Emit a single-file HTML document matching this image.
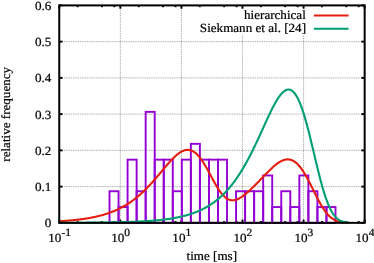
<!DOCTYPE html>
<html><head><meta charset="utf-8"><title>plot</title>
<style>
html,body{margin:0;padding:0;background:#fff;}
body{width:374px;height:263px;overflow:hidden;}
svg{display:block;will-change:transform;}
text{font-family:"Liberation Serif",serif;fill:#000;}
.tx{filter:grayscale(1);text-rendering:geometricPrecision;stroke:#000;stroke-width:0.22px;}
</style></head><body>
<svg width="374" height="263" viewBox="0 0 374 263">
<rect x="0" y="0" width="374" height="263" fill="#fff"/>
<line x1="120.33" y1="5.40" x2="120.33" y2="222.85" stroke="#6c6c6c" stroke-width="0.55" stroke-dasharray="1.4,0.9" fill="none"/>
<line x1="181.41" y1="5.40" x2="181.41" y2="222.85" stroke="#6c6c6c" stroke-width="0.55" stroke-dasharray="1.4,0.9" fill="none"/>
<line x1="242.49" y1="35.60" x2="242.49" y2="222.85" stroke="#6c6c6c" stroke-width="0.55" stroke-dasharray="1.4,0.9" fill="none"/>
<line x1="303.57" y1="35.60" x2="303.57" y2="222.85" stroke="#6c6c6c" stroke-width="0.55" stroke-dasharray="1.4,0.9" fill="none"/>
<line x1="59.25" y1="186.61" x2="364.65" y2="186.61" stroke="#6c6c6c" stroke-width="0.55" stroke-dasharray="1.4,0.9" fill="none"/>
<line x1="59.25" y1="150.37" x2="364.65" y2="150.37" stroke="#6c6c6c" stroke-width="0.55" stroke-dasharray="1.4,0.9" fill="none"/>
<line x1="59.25" y1="114.12" x2="364.65" y2="114.12" stroke="#6c6c6c" stroke-width="0.55" stroke-dasharray="1.4,0.9" fill="none"/>
<line x1="59.25" y1="77.88" x2="364.65" y2="77.88" stroke="#6c6c6c" stroke-width="0.55" stroke-dasharray="1.4,0.9" fill="none"/>
<line x1="59.25" y1="41.64" x2="364.65" y2="41.64" stroke="#6c6c6c" stroke-width="0.55" stroke-dasharray="1.4,0.9" fill="none"/>
<g stroke="#000" stroke-width="1.9" fill="none">
<line x1="59.25" y1="222.85" x2="59.25" y2="219.55"/>
<line x1="59.25" y1="5.40" x2="59.25" y2="8.70"/>
<line x1="77.64" y1="222.85" x2="77.64" y2="221.05"/>
<line x1="77.64" y1="5.40" x2="77.64" y2="7.20"/>
<line x1="101.94" y1="222.85" x2="101.94" y2="221.05"/>
<line x1="101.94" y1="5.40" x2="101.94" y2="7.20"/>
<line x1="114.41" y1="222.85" x2="114.41" y2="221.05"/>
<line x1="114.41" y1="5.40" x2="114.41" y2="7.20"/>
<line x1="120.33" y1="222.85" x2="120.33" y2="219.55"/>
<line x1="120.33" y1="5.40" x2="120.33" y2="8.70"/>
<line x1="138.72" y1="222.85" x2="138.72" y2="221.05"/>
<line x1="138.72" y1="5.40" x2="138.72" y2="7.20"/>
<line x1="163.02" y1="222.85" x2="163.02" y2="221.05"/>
<line x1="163.02" y1="5.40" x2="163.02" y2="7.20"/>
<line x1="175.49" y1="222.85" x2="175.49" y2="221.05"/>
<line x1="175.49" y1="5.40" x2="175.49" y2="7.20"/>
<line x1="181.41" y1="222.85" x2="181.41" y2="219.55"/>
<line x1="181.41" y1="5.40" x2="181.41" y2="8.70"/>
<line x1="199.80" y1="222.85" x2="199.80" y2="221.05"/>
<line x1="199.80" y1="5.40" x2="199.80" y2="7.20"/>
<line x1="224.10" y1="222.85" x2="224.10" y2="221.05"/>
<line x1="224.10" y1="5.40" x2="224.10" y2="7.20"/>
<line x1="236.57" y1="222.85" x2="236.57" y2="221.05"/>
<line x1="236.57" y1="5.40" x2="236.57" y2="7.20"/>
<line x1="242.49" y1="222.85" x2="242.49" y2="219.55"/>
<line x1="242.49" y1="5.40" x2="242.49" y2="8.70"/>
<line x1="260.88" y1="222.85" x2="260.88" y2="221.05"/>
<line x1="260.88" y1="5.40" x2="260.88" y2="7.20"/>
<line x1="285.18" y1="222.85" x2="285.18" y2="221.05"/>
<line x1="285.18" y1="5.40" x2="285.18" y2="7.20"/>
<line x1="297.65" y1="222.85" x2="297.65" y2="221.05"/>
<line x1="297.65" y1="5.40" x2="297.65" y2="7.20"/>
<line x1="303.57" y1="222.85" x2="303.57" y2="219.55"/>
<line x1="303.57" y1="5.40" x2="303.57" y2="8.70"/>
<line x1="321.96" y1="222.85" x2="321.96" y2="221.05"/>
<line x1="321.96" y1="5.40" x2="321.96" y2="7.20"/>
<line x1="346.26" y1="222.85" x2="346.26" y2="221.05"/>
<line x1="346.26" y1="5.40" x2="346.26" y2="7.20"/>
<line x1="358.73" y1="222.85" x2="358.73" y2="221.05"/>
<line x1="358.73" y1="5.40" x2="358.73" y2="7.20"/>
<line x1="364.65" y1="222.85" x2="364.65" y2="219.55"/>
<line x1="364.65" y1="5.40" x2="364.65" y2="8.70"/>
<line x1="59.25" y1="222.85" x2="62.55" y2="222.85"/>
<line x1="364.65" y1="222.85" x2="361.35" y2="222.85"/>
<line x1="59.25" y1="186.61" x2="62.55" y2="186.61"/>
<line x1="364.65" y1="186.61" x2="361.35" y2="186.61"/>
<line x1="59.25" y1="150.37" x2="62.55" y2="150.37"/>
<line x1="364.65" y1="150.37" x2="361.35" y2="150.37"/>
<line x1="59.25" y1="114.12" x2="62.55" y2="114.12"/>
<line x1="364.65" y1="114.12" x2="361.35" y2="114.12"/>
<line x1="59.25" y1="77.88" x2="62.55" y2="77.88"/>
<line x1="364.65" y1="77.88" x2="361.35" y2="77.88"/>
<line x1="59.25" y1="41.64" x2="62.55" y2="41.64"/>
<line x1="364.65" y1="41.64" x2="361.35" y2="41.64"/>
<line x1="59.25" y1="5.40" x2="62.55" y2="5.40"/>
<line x1="364.65" y1="5.40" x2="361.35" y2="5.40"/>
</g>
<g fill="none" stroke="#9400d3" stroke-width="1.9" stroke-linejoin="miter">
<rect x="109.50" y="191.25" width="9.04" height="31.60"/>
<rect x="118.54" y="207.05" width="9.04" height="15.80"/>
<rect x="127.58" y="159.65" width="9.04" height="63.20"/>
<rect x="136.62" y="191.25" width="9.04" height="31.60"/>
<rect x="145.66" y="111.85" width="9.04" height="111.00"/>
<rect x="154.70" y="159.65" width="9.04" height="63.20"/>
<rect x="163.74" y="159.65" width="9.04" height="63.20"/>
<rect x="172.78" y="191.25" width="9.04" height="31.60"/>
<rect x="181.82" y="159.65" width="9.04" height="63.20"/>
<rect x="190.86" y="143.85" width="9.04" height="79.00"/>
<rect x="199.90" y="159.65" width="9.04" height="63.20"/>
<rect x="208.94" y="159.65" width="9.04" height="63.20"/>
<rect x="217.98" y="159.65" width="9.04" height="63.20"/>
<rect x="236.06" y="191.25" width="9.04" height="31.60"/>
<rect x="245.10" y="191.25" width="9.04" height="31.60"/>
<rect x="254.14" y="191.25" width="9.04" height="31.60"/>
<rect x="263.18" y="175.45" width="9.04" height="47.40"/>
<rect x="272.22" y="207.05" width="9.04" height="15.80"/>
<rect x="281.26" y="191.25" width="9.04" height="31.60"/>
<rect x="290.30" y="207.05" width="9.04" height="15.80"/>
<rect x="299.34" y="175.45" width="9.04" height="47.40"/>
<rect x="308.38" y="191.25" width="9.04" height="31.60"/>
<rect x="317.42" y="207.05" width="9.04" height="15.80"/>
<rect x="326.46" y="207.05" width="9.04" height="15.80"/>
</g>
<path d="M59.25,221.27 L59.76,221.24 L60.27,221.21 L60.78,221.17 L61.29,221.14 L61.79,221.11 L62.30,221.08 L62.81,221.04 L63.32,221.01 L63.83,220.97 L64.34,220.94 L64.85,220.90 L65.36,220.86 L65.87,220.82 L66.38,220.78 L66.89,220.75 L67.39,220.70 L67.90,220.66 L68.41,220.62 L68.92,220.58 L69.43,220.54 L69.94,220.49 L70.45,220.45 L70.96,220.40 L71.47,220.35 L71.97,220.31 L72.48,220.26 L72.99,220.21 L73.50,220.16 L74.01,220.11 L74.52,220.05 L75.03,220.00 L75.54,219.95 L76.05,219.89 L76.56,219.83 L77.06,219.78 L77.57,219.72 L78.08,219.66 L78.59,219.60 L79.10,219.54 L79.61,219.47 L80.12,219.41 L80.63,219.34 L81.14,219.28 L81.65,219.21 L82.16,219.14 L82.66,219.07 L83.17,219.00 L83.68,218.92 L84.19,218.85 L84.70,218.77 L85.21,218.70 L85.72,218.62 L86.23,218.54 L86.74,218.45 L87.24,218.37 L87.75,218.29 L88.26,218.20 L88.77,218.11 L89.28,218.02 L89.79,217.93 L90.30,217.84 L90.81,217.75 L91.32,217.65 L91.83,217.55 L92.33,217.45 L92.84,217.35 L93.35,217.25 L93.86,217.14 L94.37,217.03 L94.88,216.92 L95.39,216.81 L95.90,216.70 L96.41,216.59 L96.92,216.47 L97.42,216.35 L97.93,216.23 L98.44,216.10 L98.95,215.98 L99.46,215.85 L99.97,215.72 L100.48,215.59 L100.99,215.45 L101.50,215.31 L102.01,215.17 L102.52,215.03 L103.02,214.89 L103.53,214.74 L104.04,214.59 L104.55,214.43 L105.06,214.28 L105.57,214.12 L106.08,213.96 L106.59,213.80 L107.10,213.63 L107.60,213.46 L108.11,213.29 L108.62,213.11 L109.13,212.93 L109.64,212.75 L110.15,212.57 L110.66,212.38 L111.17,212.19 L111.68,211.99 L112.19,211.79 L112.69,211.59 L113.20,211.39 L113.71,211.18 L114.22,210.97 L114.73,210.75 L115.24,210.54 L115.75,210.31 L116.26,210.09 L116.77,209.86 L117.28,209.63 L117.78,209.39 L118.29,209.15 L118.80,208.90 L119.31,208.65 L119.82,208.40 L120.33,208.14 L120.84,207.88 L121.35,207.62 L121.86,207.35 L122.37,207.07 L122.88,206.79 L123.38,206.51 L123.89,206.22 L124.40,205.93 L124.91,205.64 L125.42,205.34 L125.93,205.03 L126.44,204.72 L126.95,204.41 L127.46,204.09 L127.97,203.76 L128.47,203.43 L128.98,203.10 L129.49,202.76 L130.00,202.42 L130.51,202.07 L131.02,201.71 L131.53,201.36 L132.04,200.99 L132.55,200.62 L133.06,200.25 L133.56,199.87 L134.07,199.49 L134.58,199.10 L135.09,198.70 L135.60,198.30 L136.11,197.89 L136.62,197.48 L137.13,197.07 L137.64,196.65 L138.14,196.22 L138.65,195.79 L139.16,195.35 L139.67,194.91 L140.18,194.46 L140.69,194.00 L141.20,193.54 L141.71,193.08 L142.22,192.61 L142.73,192.13 L143.24,191.65 L143.74,191.17 L144.25,190.68 L144.76,190.18 L145.27,189.68 L145.78,189.17 L146.29,188.66 L146.80,188.14 L147.31,187.62 L147.82,187.09 L148.32,186.56 L148.83,186.03 L149.34,185.49 L149.85,184.94 L150.36,184.39 L150.87,183.84 L151.38,183.28 L151.89,182.71 L152.40,182.15 L152.91,181.58 L153.42,181.00 L153.92,180.42 L154.43,179.84 L154.94,179.26 L155.45,178.67 L155.96,178.08 L156.47,177.48 L156.98,176.89 L157.49,176.29 L158.00,175.69 L158.50,175.08 L159.01,174.48 L159.52,173.87 L160.03,173.27 L160.54,172.66 L161.05,172.05 L161.56,171.44 L162.07,170.83 L162.58,170.22 L163.09,169.61 L163.59,169.01 L164.10,168.40 L164.61,167.80 L165.12,167.19 L165.63,166.59 L166.14,166.00 L166.65,165.40 L167.16,164.81 L167.67,164.22 L168.18,163.64 L168.69,163.06 L169.19,162.49 L169.70,161.92 L170.21,161.36 L170.72,160.81 L171.23,160.26 L171.74,159.72 L172.25,159.19 L172.76,158.67 L173.27,158.16 L173.77,157.66 L174.28,157.16 L174.79,156.68 L175.30,156.21 L175.81,155.75 L176.32,155.31 L176.83,154.87 L177.34,154.45 L177.85,154.05 L178.36,153.66 L178.87,153.29 L179.37,152.93 L179.88,152.59 L180.39,152.26 L180.90,151.96 L181.41,151.67 L181.92,151.40 L182.43,151.15 L182.94,150.92 L183.45,150.72 L183.95,150.53 L184.46,150.37 L184.97,150.22 L185.48,150.10 L185.99,150.01 L186.50,149.94 L187.01,149.89 L187.52,149.87 L188.03,149.87 L188.54,149.90 L189.04,149.95 L189.55,150.03 L190.06,150.14 L190.57,150.28 L191.08,150.44 L191.59,150.63 L192.10,150.84 L192.61,151.09 L193.12,151.36 L193.63,151.66 L194.14,151.99 L194.64,152.35 L195.15,152.73 L195.66,153.15 L196.17,153.59 L196.68,154.06 L197.19,154.55 L197.70,155.07 L198.21,155.62 L198.72,156.20 L199.22,156.80 L199.73,157.43 L200.24,158.08 L200.75,158.76 L201.26,159.46 L201.77,160.18 L202.28,160.92 L202.79,161.69 L203.30,162.47 L203.81,163.28 L204.31,164.10 L204.82,164.94 L205.33,165.80 L205.84,166.67 L206.35,167.56 L206.86,168.45 L207.37,169.36 L207.88,170.28 L208.39,171.21 L208.90,172.15 L209.41,173.09 L209.91,174.03 L210.42,174.98 L210.93,175.93 L211.44,176.88 L211.95,177.82 L212.46,178.77 L212.97,179.71 L213.48,180.64 L213.99,181.56 L214.49,182.48 L215.00,183.39 L215.51,184.28 L216.02,185.16 L216.53,186.02 L217.04,186.87 L217.55,187.70 L218.06,188.51 L218.57,189.30 L219.08,190.07 L219.59,190.81 L220.09,191.54 L220.60,192.23 L221.11,192.91 L221.62,193.55 L222.13,194.17 L222.64,194.76 L223.15,195.32 L223.66,195.85 L224.17,196.36 L224.68,196.83 L225.18,197.27 L225.69,197.68 L226.20,198.06 L226.71,198.41 L227.22,198.73 L227.73,199.02 L228.24,199.28 L228.75,199.50 L229.26,199.70 L229.76,199.87 L230.27,200.00 L230.78,200.11 L231.29,200.19 L231.80,200.25 L232.31,200.27 L232.82,200.27 L233.33,200.25 L233.84,200.20 L234.35,200.12 L234.85,200.02 L235.36,199.90 L235.87,199.76 L236.38,199.60 L236.89,199.41 L237.40,199.21 L237.91,198.99 L238.42,198.75 L238.93,198.50 L239.44,198.23 L239.94,197.94 L240.45,197.64 L240.96,197.33 L241.47,197.00 L241.98,196.66 L242.49,196.31 L243.00,195.94 L243.51,195.57 L244.02,195.19 L244.53,194.80 L245.03,194.40 L245.54,193.99 L246.05,193.57 L246.56,193.14 L247.07,192.71 L247.58,192.27 L248.09,191.83 L248.60,191.38 L249.11,190.92 L249.62,190.45 L250.12,189.99 L250.63,189.51 L251.14,189.03 L251.65,188.55 L252.16,188.06 L252.67,187.57 L253.18,187.08 L253.69,186.58 L254.20,186.07 L254.71,185.57 L255.22,185.06 L255.72,184.55 L256.23,184.03 L256.74,183.51 L257.25,182.99 L257.76,182.47 L258.27,181.94 L258.78,181.42 L259.29,180.89 L259.80,180.36 L260.30,179.83 L260.81,179.30 L261.32,178.76 L261.83,178.23 L262.34,177.70 L262.85,177.16 L263.36,176.63 L263.87,176.10 L264.38,175.57 L264.89,175.04 L265.39,174.51 L265.90,173.98 L266.41,173.46 L266.92,172.94 L267.43,172.42 L267.94,171.90 L268.45,171.39 L268.96,170.88 L269.47,170.38 L269.98,169.88 L270.49,169.39 L270.99,168.90 L271.50,168.42 L272.01,167.95 L272.52,167.48 L273.03,167.02 L273.54,166.57 L274.05,166.13 L274.56,165.70 L275.07,165.27 L275.57,164.86 L276.08,164.46 L276.59,164.07 L277.10,163.69 L277.61,163.32 L278.12,162.96 L278.63,162.62 L279.14,162.30 L279.65,161.98 L280.16,161.68 L280.66,161.40 L281.17,161.13 L281.68,160.88 L282.19,160.65 L282.70,160.44 L283.21,160.24 L283.72,160.06 L284.23,159.91 L284.74,159.77 L285.25,159.65 L285.75,159.55 L286.26,159.48 L286.77,159.43 L287.28,159.39 L287.79,159.39 L288.30,159.40 L288.81,159.44 L289.32,159.51 L289.83,159.60 L290.34,159.71 L290.84,159.85 L291.35,160.01 L291.86,160.21 L292.37,160.42 L292.88,160.67 L293.39,160.94 L293.90,161.24 L294.41,161.56 L294.92,161.91 L295.43,162.29 L295.94,162.70 L296.44,163.13 L296.95,163.59 L297.46,164.08 L297.97,164.60 L298.48,165.14 L298.99,165.71 L299.50,166.30 L300.01,166.92 L300.52,167.57 L301.02,168.24 L301.53,168.94 L302.04,169.66 L302.55,170.40 L303.06,171.17 L303.57,171.96 L304.08,172.77 L304.59,173.60 L305.10,174.45 L305.61,175.32 L306.12,176.21 L306.62,177.11 L307.13,178.03 L307.64,178.97 L308.15,179.92 L308.66,180.88 L309.17,181.86 L309.68,182.84 L310.19,183.84 L310.70,184.84 L311.20,185.85 L311.71,186.86 L312.22,187.88 L312.73,188.90 L313.24,189.93 L313.75,190.95 L314.26,191.97 L314.77,192.99 L315.28,194.00 L315.79,195.01 L316.29,196.01 L316.80,197.01 L317.31,197.99 L317.82,198.97 L318.33,199.93 L318.84,200.88 L319.35,201.81 L319.86,202.73 L320.37,203.64 L320.88,204.52 L321.38,205.39 L321.89,206.24 L322.40,207.06 L322.91,207.87 L323.42,208.66 L323.93,209.42 L324.44,210.16 L324.95,210.88 L325.46,211.57 L325.97,212.24 L326.47,212.89 L326.98,213.51 L327.49,214.11 L328.00,214.68 L328.51,215.23 L329.02,215.75 L329.53,216.25 L330.04,216.72 L330.55,217.17 L331.06,217.60 L331.56,218.00 L332.07,218.39 L332.58,218.75 L333.09,219.08 L333.60,219.40 L334.11,219.70 L334.62,219.98 L335.13,220.23 L335.64,220.48 L336.15,220.70 L336.66,220.91 L337.16,221.10 L337.67,221.27 L338.18,221.44 L338.69,221.58 L339.20,221.72 L339.71,221.84 L340.22,221.96 L340.73,222.06 L341.24,222.15 L341.75,222.23 L342.25,222.31 L342.76,222.37 L343.27,222.44 L343.78,222.49" fill="none" stroke="#e51e10" stroke-width="2.1" stroke-linejoin="round"/>
<path d="M59.25,222.79 L59.76,222.78 L60.27,222.78 L60.78,222.78 L61.29,222.78 L61.79,222.78 L62.30,222.78 L62.81,222.78 L63.32,222.78 L63.83,222.77 L64.34,222.77 L64.85,222.77 L65.36,222.77 L65.87,222.77 L66.38,222.77 L66.89,222.76 L67.39,222.76 L67.90,222.76 L68.41,222.76 L68.92,222.76 L69.43,222.76 L69.94,222.75 L70.45,222.75 L70.96,222.75 L71.47,222.75 L71.97,222.75 L72.48,222.74 L72.99,222.74 L73.50,222.74 L74.01,222.74 L74.52,222.74 L75.03,222.73 L75.54,222.73 L76.05,222.73 L76.56,222.73 L77.06,222.72 L77.57,222.72 L78.08,222.72 L78.59,222.72 L79.10,222.71 L79.61,222.71 L80.12,222.71 L80.63,222.71 L81.14,222.70 L81.65,222.70 L82.16,222.70 L82.66,222.70 L83.17,222.69 L83.68,222.69 L84.19,222.69 L84.70,222.68 L85.21,222.68 L85.72,222.68 L86.23,222.67 L86.74,222.67 L87.24,222.67 L87.75,222.66 L88.26,222.66 L88.77,222.66 L89.28,222.65 L89.79,222.65 L90.30,222.64 L90.81,222.64 L91.32,222.64 L91.83,222.63 L92.33,222.63 L92.84,222.62 L93.35,222.62 L93.86,222.61 L94.37,222.61 L94.88,222.61 L95.39,222.60 L95.90,222.60 L96.41,222.59 L96.92,222.59 L97.42,222.58 L97.93,222.58 L98.44,222.57 L98.95,222.56 L99.46,222.56 L99.97,222.55 L100.48,222.55 L100.99,222.54 L101.50,222.54 L102.01,222.53 L102.52,222.52 L103.02,222.52 L103.53,222.51 L104.04,222.50 L104.55,222.50 L105.06,222.49 L105.57,222.48 L106.08,222.48 L106.59,222.47 L107.10,222.46 L107.60,222.45 L108.11,222.45 L108.62,222.44 L109.13,222.43 L109.64,222.42 L110.15,222.41 L110.66,222.41 L111.17,222.40 L111.68,222.39 L112.19,222.38 L112.69,222.37 L113.20,222.36 L113.71,222.35 L114.22,222.34 L114.73,222.33 L115.24,222.32 L115.75,222.31 L116.26,222.30 L116.77,222.29 L117.28,222.28 L117.78,222.27 L118.29,222.26 L118.80,222.25 L119.31,222.24 L119.82,222.22 L120.33,222.21 L120.84,222.20 L121.35,222.19 L121.86,222.17 L122.37,222.16 L122.88,222.15 L123.38,222.13 L123.89,222.12 L124.40,222.11 L124.91,222.09 L125.42,222.08 L125.93,222.06 L126.44,222.05 L126.95,222.03 L127.46,222.02 L127.97,222.00 L128.47,221.98 L128.98,221.97 L129.49,221.95 L130.00,221.93 L130.51,221.91 L131.02,221.90 L131.53,221.88 L132.04,221.86 L132.55,221.84 L133.06,221.82 L133.56,221.80 L134.07,221.78 L134.58,221.76 L135.09,221.74 L135.60,221.72 L136.11,221.69 L136.62,221.67 L137.13,221.65 L137.64,221.63 L138.14,221.60 L138.65,221.58 L139.16,221.55 L139.67,221.53 L140.18,221.50 L140.69,221.48 L141.20,221.45 L141.71,221.42 L142.22,221.40 L142.73,221.37 L143.24,221.34 L143.74,221.31 L144.25,221.28 L144.76,221.25 L145.27,221.22 L145.78,221.19 L146.29,221.16 L146.80,221.12 L147.31,221.09 L147.82,221.06 L148.32,221.02 L148.83,220.99 L149.34,220.95 L149.85,220.91 L150.36,220.88 L150.87,220.84 L151.38,220.80 L151.89,220.76 L152.40,220.72 L152.91,220.68 L153.42,220.64 L153.92,220.59 L154.43,220.55 L154.94,220.51 L155.45,220.46 L155.96,220.42 L156.47,220.37 L156.98,220.32 L157.49,220.27 L158.00,220.22 L158.50,220.17 L159.01,220.12 L159.52,220.07 L160.03,220.02 L160.54,219.96 L161.05,219.91 L161.56,219.85 L162.07,219.79 L162.58,219.73 L163.09,219.67 L163.59,219.61 L164.10,219.55 L164.61,219.49 L165.12,219.42 L165.63,219.36 L166.14,219.29 L166.65,219.22 L167.16,219.15 L167.67,219.08 L168.18,219.01 L168.69,218.93 L169.19,218.86 L169.70,218.78 L170.21,218.70 L170.72,218.63 L171.23,218.54 L171.74,218.46 L172.25,218.38 L172.76,218.29 L173.27,218.21 L173.77,218.12 L174.28,218.03 L174.79,217.93 L175.30,217.84 L175.81,217.74 L176.32,217.65 L176.83,217.55 L177.34,217.45 L177.85,217.34 L178.36,217.24 L178.87,217.13 L179.37,217.02 L179.88,216.91 L180.39,216.80 L180.90,216.68 L181.41,216.57 L181.92,216.45 L182.43,216.32 L182.94,216.20 L183.45,216.07 L183.95,215.95 L184.46,215.81 L184.97,215.68 L185.48,215.54 L185.99,215.41 L186.50,215.26 L187.01,215.12 L187.52,214.97 L188.03,214.83 L188.54,214.67 L189.04,214.52 L189.55,214.36 L190.06,214.20 L190.57,214.04 L191.08,213.87 L191.59,213.70 L192.10,213.53 L192.61,213.35 L193.12,213.17 L193.63,212.99 L194.14,212.81 L194.64,212.62 L195.15,212.43 L195.66,212.23 L196.17,212.03 L196.68,211.83 L197.19,211.62 L197.70,211.41 L198.21,211.20 L198.72,210.98 L199.22,210.76 L199.73,210.53 L200.24,210.30 L200.75,210.06 L201.26,209.83 L201.77,209.58 L202.28,209.34 L202.79,209.09 L203.30,208.83 L203.81,208.57 L204.31,208.30 L204.82,208.03 L205.33,207.76 L205.84,207.48 L206.35,207.20 L206.86,206.91 L207.37,206.61 L207.88,206.31 L208.39,206.01 L208.90,205.70 L209.41,205.38 L209.91,205.06 L210.42,204.73 L210.93,204.40 L211.44,204.06 L211.95,203.72 L212.46,203.37 L212.97,203.02 L213.48,202.65 L213.99,202.29 L214.49,201.91 L215.00,201.53 L215.51,201.15 L216.02,200.75 L216.53,200.35 L217.04,199.95 L217.55,199.53 L218.06,199.11 L218.57,198.69 L219.08,198.25 L219.59,197.81 L220.09,197.36 L220.60,196.91 L221.11,196.44 L221.62,195.97 L222.13,195.50 L222.64,195.01 L223.15,194.52 L223.66,194.02 L224.17,193.51 L224.68,192.99 L225.18,192.46 L225.69,191.93 L226.20,191.39 L226.71,190.84 L227.22,190.28 L227.73,189.71 L228.24,189.14 L228.75,188.55 L229.26,187.96 L229.76,187.36 L230.27,186.74 L230.78,186.12 L231.29,185.50 L231.80,184.86 L232.31,184.21 L232.82,183.55 L233.33,182.89 L233.84,182.21 L234.35,181.52 L234.85,180.83 L235.36,180.13 L235.87,179.41 L236.38,178.69 L236.89,177.95 L237.40,177.21 L237.91,176.46 L238.42,175.70 L238.93,174.92 L239.44,174.14 L239.94,173.35 L240.45,172.54 L240.96,171.73 L241.47,170.91 L241.98,170.08 L242.49,169.24 L243.00,168.38 L243.51,167.52 L244.02,166.65 L244.53,165.77 L245.03,164.88 L245.54,163.97 L246.05,163.06 L246.56,162.14 L247.07,161.21 L247.58,160.27 L248.09,159.33 L248.60,158.37 L249.11,157.40 L249.62,156.43 L250.12,155.44 L250.63,154.45 L251.14,153.45 L251.65,152.44 L252.16,151.42 L252.67,150.39 L253.18,149.36 L253.69,148.32 L254.20,147.27 L254.71,146.21 L255.22,145.15 L255.72,144.08 L256.23,143.00 L256.74,141.92 L257.25,140.84 L257.76,139.74 L258.27,138.65 L258.78,137.55 L259.29,136.44 L259.80,135.33 L260.30,134.22 L260.81,133.11 L261.32,131.99 L261.83,130.87 L262.34,129.75 L262.85,128.63 L263.36,127.51 L263.87,126.39 L264.38,125.27 L264.89,124.16 L265.39,123.04 L265.90,121.93 L266.41,120.82 L266.92,119.72 L267.43,118.62 L267.94,117.52 L268.45,116.44 L268.96,115.36 L269.47,114.29 L269.98,113.23 L270.49,112.17 L270.99,111.13 L271.50,110.10 L272.01,109.09 L272.52,108.08 L273.03,107.09 L273.54,106.12 L274.05,105.16 L274.56,104.22 L275.07,103.30 L275.57,102.40 L276.08,101.52 L276.59,100.66 L277.10,99.82 L277.61,99.01 L278.12,98.22 L278.63,97.46 L279.14,96.73 L279.65,96.02 L280.16,95.35 L280.66,94.70 L281.17,94.09 L281.68,93.51 L282.19,92.97 L282.70,92.46 L283.21,91.98 L283.72,91.55 L284.23,91.15 L284.74,90.80 L285.25,90.48 L285.75,90.21 L286.26,89.98 L286.77,89.80 L287.28,89.66 L287.79,89.57 L288.30,89.53 L288.81,89.53 L289.32,89.59 L289.83,89.69 L290.34,89.85 L290.84,90.06 L291.35,90.32 L291.86,90.64 L292.37,91.01 L292.88,91.43 L293.39,91.91 L293.90,92.45 L294.41,93.04 L294.92,93.69 L295.43,94.40 L295.94,95.16 L296.44,95.99 L296.95,96.86 L297.46,97.80 L297.97,98.79 L298.48,99.84 L298.99,100.95 L299.50,102.11 L300.01,103.33 L300.52,104.60 L301.02,105.93 L301.53,107.31 L302.04,108.74 L302.55,110.23 L303.06,111.76 L303.57,113.34 L304.08,114.97 L304.59,116.65 L305.10,118.37 L305.61,120.14 L306.12,121.94 L306.62,123.79 L307.13,125.67 L307.64,127.59 L308.15,129.53 L308.66,131.52 L309.17,133.52 L309.68,135.56 L310.19,137.62 L310.70,139.70 L311.20,141.79 L311.71,143.90 L312.22,146.03 L312.73,148.17 L313.24,150.31 L313.75,152.46 L314.26,154.60 L314.77,156.75 L315.28,158.90 L315.79,161.03 L316.29,163.16 L316.80,165.27 L317.31,167.37 L317.82,169.45 L318.33,171.51 L318.84,173.55 L319.35,175.55 L319.86,177.54 L320.37,179.49 L320.88,181.40 L321.38,183.29 L321.89,185.13 L322.40,186.93 L322.91,188.70 L323.42,190.42 L323.93,192.10 L324.44,193.73 L324.95,195.31 L325.46,196.85 L325.97,198.33 L326.47,199.77 L326.98,201.15 L327.49,202.49 L328.00,203.77 L328.51,205.00 L329.02,206.18 L329.53,207.31 L330.04,208.38 L330.55,209.41 L331.06,210.39 L331.56,211.31 L332.07,212.19 L332.58,213.02 L333.09,213.80 L333.60,214.54 L334.11,215.23 L334.62,215.88 L335.13,216.48 L335.64,217.05 L336.15,217.58 L336.66,218.07 L337.16,218.52 L337.67,218.94 L338.18,219.33 L338.69,219.69 L339.20,220.01 L339.71,220.31 L340.22,220.59 L340.73,220.84 L341.24,221.06 L341.75,221.27 L342.25,221.46 L342.76,221.62 L343.27,221.77 L343.78,221.91 L344.29,222.03 L344.80,222.14 L345.31,222.23 L345.82,222.31 L346.33,222.39 L346.83,222.45 L347.34,222.51 L347.85,222.56 L348.36,222.60 L348.87,222.64" fill="none" stroke="#009e73" stroke-width="2.1" stroke-linejoin="round"/>
<rect x="59.25" y="5.40" width="305.40" height="217.45" fill="none" stroke="#000" stroke-width="2.0"/>
<line x1="313.9" y1="15.5" x2="348.6" y2="15.5" stroke="#e51e10" stroke-width="2.1"/>
<line x1="313.9" y1="28.8" x2="348.6" y2="28.8" stroke="#009e73" stroke-width="2.1"/>
<text class="tx" transform="translate(305.80,19.30) scale(1.047,1)" font-size="12.5" text-anchor="end">hierarchical</text>
<text class="tx" transform="translate(306.00,32.40) scale(1.047,1)" font-size="12.5" text-anchor="end">Siekmann et al. [24]</text>
<text class="tx" transform="translate(51.40,227.25) scale(1.047,1)" font-size="12.5" text-anchor="end">0</text>
<text class="tx" transform="translate(51.40,191.01) scale(1.047,1)" font-size="12.5" text-anchor="end">0.1</text>
<text class="tx" transform="translate(51.40,154.77) scale(1.047,1)" font-size="12.5" text-anchor="end">0.2</text>
<text class="tx" transform="translate(51.40,118.52) scale(1.047,1)" font-size="12.5" text-anchor="end">0.3</text>
<text class="tx" transform="translate(51.40,82.28) scale(1.047,1)" font-size="12.5" text-anchor="end">0.4</text>
<text class="tx" transform="translate(51.40,46.04) scale(1.047,1)" font-size="12.5" text-anchor="end">0.5</text>
<text class="tx" transform="translate(51.40,9.80) scale(1.047,1)" font-size="12.5" text-anchor="end">0.6</text>
<text class="tx" transform="translate(48.29,241.70) scale(1.047,1)" font-size="12.5" text-anchor="start">10<tspan font-size="11" dy="-5.4">-1</tspan></text>
<text class="tx" transform="translate(111.26,241.70) scale(1.047,1)" font-size="12.5" text-anchor="start">10<tspan font-size="11" dy="-5.4">0</tspan></text>
<text class="tx" transform="translate(172.34,241.70) scale(1.047,1)" font-size="12.5" text-anchor="start">10<tspan font-size="11" dy="-5.4">1</tspan></text>
<text class="tx" transform="translate(233.42,241.70) scale(1.047,1)" font-size="12.5" text-anchor="start">10<tspan font-size="11" dy="-5.4">2</tspan></text>
<text class="tx" transform="translate(294.50,241.70) scale(1.047,1)" font-size="12.5" text-anchor="start">10<tspan font-size="11" dy="-5.4">3</tspan></text>
<text class="tx" transform="translate(355.58,241.70) scale(1.047,1)" font-size="12.5" text-anchor="start">10<tspan font-size="11" dy="-5.4">4</tspan></text>
<text class="tx" transform="translate(211.75,260.30) scale(1.047,1)" font-size="12.5" text-anchor="middle">time [ms]</text>
<text class="tx" transform="translate(10.30,114.30) rotate(-90) scale(1.047,1)" font-size="12.5" text-anchor="middle">relative frequency</text>
</svg></body></html>
